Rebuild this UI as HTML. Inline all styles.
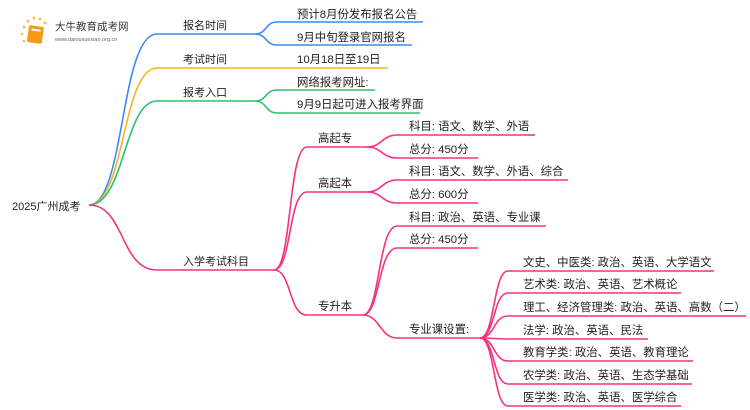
<!DOCTYPE html>
<html><head><meta charset="utf-8"><style>
html,body{margin:0;padding:0;background:#fff;width:750px;height:410px;overflow:hidden}
svg text{font-family:"Liberation Sans","Noto Sans CJK SC",sans-serif;font-size:11.4px;fill:#222}
</style></head><body>
<svg width="750" height="410" viewBox="0 0 750 410" xmlns="http://www.w3.org/2000/svg">
<g fill="none" stroke-width="1.6">
<path d="M89 205 C125 205 120 34 157 34 L255 34" stroke="#3a8cf2"/>
<path d="M89 205 C125 205 122 68 157 68 L388 68" stroke="#f5b324"/>
<path d="M89 205 C125 205 124 101 157 101 L255 101" stroke="#27c46f"/>
<path d="M255 34 C267 34 265 22 277 22 L423 22" stroke="#3a8cf2"/>
<path d="M255 34 C267 34 265 45 277 45 L412 45" stroke="#3a8cf2"/>
<path d="M255 101 C267 101 265 90 277 90 L375 90" stroke="#27c46f"/>
<path d="M255 101 C267 101 265 113 277 113 L420 113" stroke="#27c46f"/>
<g stroke="#f5327f">
<path d="M89 205 C125 205 120 270 157 270 L274 270"/>
<path d="M274 270 C292 270 288 147 307 147 L367 147"/>
<path d="M274 270 C292 270 288 192 307 192 L367 192"/>
<path d="M274 270 C292 270 288 315 307 315 L363 315"/>
<path d="M367 147 C382 147 382 135 397 135 L535 135"/>
<path d="M367 147 C382 147 382 158 397 158 L478 158"/>
<path d="M367 192 C382 192 382 180 397 180 L568 180"/>
<path d="M367 192 C382 192 382 203 397 203 L478 203"/>
<path d="M363 315 C380 315 378 226 397 226 L546 226"/>
<path d="M363 315 C380 315 378 248 397 248 L478 248"/>
<path d="M363 315 C380 315 380 338 397 338 L480 338"/>
<path d="M480 338 C495 338 493 271 508 271 L714 271"/>
<path d="M480 338 C495 338 493 293 508 293 L681 293"/>
<path d="M480 338 C495 338 493 316 508 316 L746 316"/>
<path d="M480 338 C495 338 493 339 508 339 L648 339"/>
<path d="M480 338 C495 338 493 361 508 361 L693 361"/>
<path d="M480 338 C495 338 493 384 508 384 L692 384"/>
<path d="M480 338 C495 338 493 406 508 406 L681 406"/>
</g>
</g>
<g>
<circle cx="24" cy="27" r="1.5" fill="#f7c24a"/><circle cx="28" cy="21" r="1.5" fill="#f7c24a"/><circle cx="34" cy="18" r="1.5" fill="#f7c24a"/><circle cx="40" cy="19" r="1.5" fill="#f7c24a"/><circle cx="45" cy="23" r="1.5" fill="#f7c24a"/><circle cx="22" cy="34" r="1.3" fill="#f7c24a"/><circle cx="24" cy="41" r="1.3" fill="#f7c24a"/>
<rect x="28" y="26" width="15" height="17" rx="2" fill="#f39a1b" transform="rotate(8 35 34)"/>
<rect x="31" y="29" width="9" height="2" fill="#fff" transform="rotate(8 35 34)"/>
<text x="55" y="30" style="font-size:10.5px;fill:#333">大牛教育成考网</text>
<text x="55" y="41" style="font-size:5.5px;fill:#666">www.daniuxuexiao.org.cn</text>
</g>
<text x="12" y="210" style="font-size:11px">2025广州成考</text>
<text x="183" y="29" style="font-size:11px">报名时间</text>
<text x="183" y="63" style="font-size:11px">考试时间</text>
<text x="183" y="96" style="font-size:11px">报考入口</text>
<text x="183" y="265" style="font-size:11px">入学考试科目</text>
<text x="297" y="18">预计8月份发布报名公告</text>
<text x="297" y="41">9月中旬登录官网报名</text>
<text x="297" y="63">10月18日至19日</text>
<text x="297" y="86">网络报考网址:</text>
<text x="297" y="108">9月9日起可进入报考界面</text>
<text x="318" y="142">高起专</text>
<text x="318" y="187">高起本</text>
<text x="318" y="310">专升本</text>
<text x="409" y="130">科目: 语文、数学、外语</text>
<text x="409" y="153">总分: 450分</text>
<text x="409" y="175">科目: 语文、数学、外语、综合</text>
<text x="409" y="198">总分: 600分</text>
<text x="409" y="221">科目: 政治、英语、专业课</text>
<text x="409" y="243">总分: 450分</text>
<text x="409" y="333">专业课设置:</text>
<text x="523" y="266">文史、中医类: 政治、英语、大学语文</text>
<text x="523" y="288">艺术类: 政治、英语、艺术概论</text>
<text x="523" y="311">理工、经济管理类: 政治、英语、高数（二）</text>
<text x="523" y="334">法学: 政治、英语、民法</text>
<text x="523" y="356">教育学类: 政治、英语、教育理论</text>
<text x="523" y="379">农学类: 政治、英语、生态学基础</text>
<text x="523" y="401">医学类: 政治、英语、医学综合</text>
</svg>
</body></html>
